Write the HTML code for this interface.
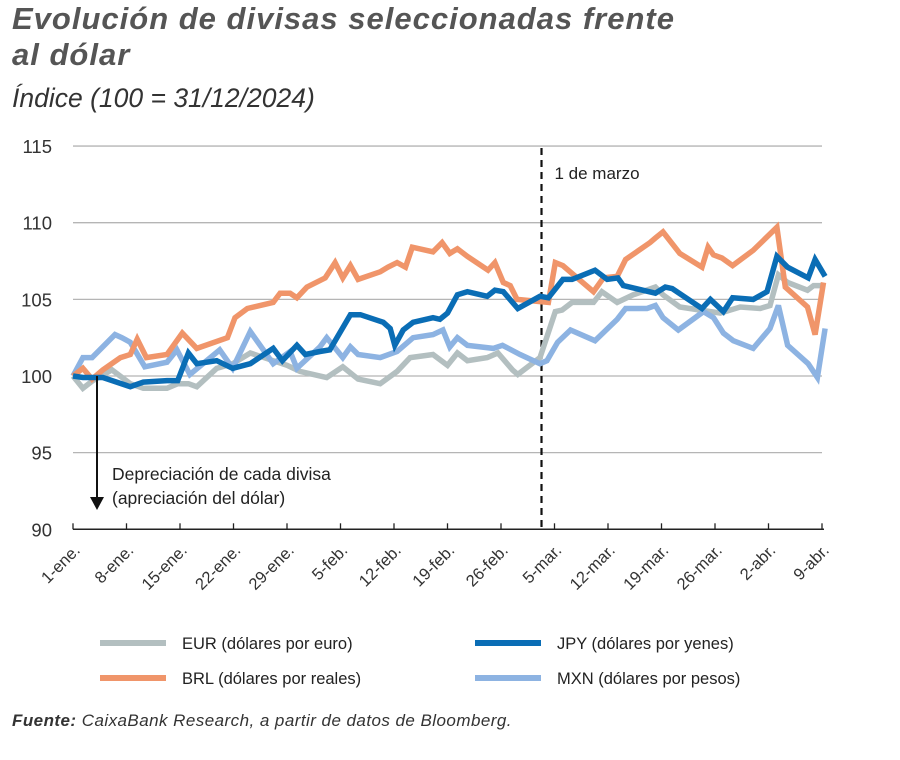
<!DOCTYPE html>
<html><head><meta charset="utf-8">
<style>
body{margin:0;background:#fff;font-family:"Liberation Sans",sans-serif;}
#wrap{position:relative;width:900px;height:760px;overflow:hidden;}
.t{position:absolute;color:#555;font-style:italic;font-weight:bold;font-size:31px;letter-spacing:1px;left:12px;}
</style></head><body>
<div id="wrap">
<div class="t" style="top:1px">Evolución de divisas seleccionadas frente</div>
<div class="t" style="top:37px">al dólar</div>
<div style="position:absolute;left:12px;top:83px;font-style:italic;font-size:26.5px;color:#333">Índice (100 = 31/12/2024)</div>
<svg id="svg" width="900" height="760" style="position:absolute;left:0;top:0"></svg>
<div style="position:absolute;left:12px;top:711px;font-style:italic;font-size:17px;letter-spacing:0.45px;color:#333"><b>Fuente:</b> CaixaBank Research, a partir de datos de Bloomberg.</div>
</div>
<script>
const tickDays=[0,7,14,21,28,35,42,49,56,63,70,77,84,91,98];
const tickLabels=["1-ene.","8-ene.","15-ene.","22-ene.","29-ene.","5-feb.","12-feb.","19-feb.","26-feb.","5-mar.","12-mar.","19-mar.","26-mar.","2-abr.","9-abr."];
const yTicks=[90,95,100,105,110,115];
const eurDays=[0,1.3,2.6,5.1,7.5,9.2,12.3,13.7,15.1,16.2,18.8,20.9,23.2,26.2,28,29.7,33.2,35.3,37.3,40.2,42.4,44.1,47.1,49,50.3,51.6,54.2,55.6,57.5,58.2,61.1,63.1,64,65.3,68.1,69.2,71.2,73.3,76.2,77.2,79.4,82.1,84.7,87.3,89.9,91.2,92.3,93.5,96.1,96.9,98.2];
const eurVals=[100,99.2,99.7,100.4,99.5,99.2,99.2,99.5,99.5,99.3,100.5,100.8,101.5,101,100.7,100.3,99.9,100.6,99.8,99.5,100.3,101.2,101.4,100.7,101.5,101,101.2,101.5,100.4,100.1,101.2,104.2,104.3,104.8,104.8,105.5,104.8,105.3,105.8,105.3,104.5,104.3,104.1,104.5,104.4,104.6,106.6,106.1,105.6,105.9,105.9];
const brlDays=[0,1.3,2.5,3.9,6.2,7.5,8.4,9.6,12.3,14.3,16.2,20.2,21.2,22.8,26.2,27.1,28.4,29.3,30.6,33,34.3,35.3,36.3,37.3,40.2,41.2,42.4,43.5,44.4,47.1,48.3,49.3,50.3,51.6,54.3,55.2,56.3,57.2,58.1,62.2,63.1,64.1,68.1,69.4,71.2,72.3,75.5,76.2,77.2,79.4,82.3,83.1,83.8,84.9,86.3,89,92.1,93.2,96.1,97.1,98.2];
const brlVals=[100,100.5,99.8,100.4,101.2,101.4,102.4,101.2,101.4,102.8,101.8,102.5,103.8,104.4,104.8,105.4,105.4,105.1,105.8,106.4,107.4,106.4,107.2,106.3,106.8,107.1,107.4,107.1,108.4,108.1,108.7,108,108.3,107.8,106.9,107.4,106.1,105.9,105,104.8,107.4,107.2,105.5,106.4,106.5,107.6,108.7,109,109.4,108,107.1,108.4,107.9,107.7,107.2,108.2,109.7,105.8,104.5,102.7,106.1];
const jpyDays=[0,1.3,3.9,7.5,9.2,12.3,13.7,15.1,16.2,18.8,20.9,23.2,26.2,27.4,29.3,30.4,32.3,33.6,36.3,37.6,40.6,41.5,42.1,43.2,44.5,47.1,48,49,50.3,51.6,54.2,55.2,56.3,58.2,61.1,62.2,64.1,65.3,68.3,69.9,71.3,72,76.2,77.5,78.4,82.3,83.4,85.1,86.3,89,90.8,92.1,93.5,96.2,97.1,98.4];
const jpyVals=[100,99.9,99.9,99.3,99.6,99.7,99.7,101.5,100.8,101,100.5,100.8,101.8,101,102,101.4,101.6,101.7,104,104,103.5,103.1,102,103,103.5,103.8,103.7,104.1,105.3,105.5,105.2,105.6,105.5,104.4,105.2,105.1,106.3,106.3,106.9,106.3,106.4,105.9,105.4,105.8,105.7,104.4,105,104.2,105.1,105,105.5,107.8,107.1,106.4,107.6,106.5];
const mxnDays=[0,1.3,2.5,5.5,6.4,7.5,9.4,12.3,13.6,15.3,19.2,20.9,23.2,26.2,28.4,29.3,32.3,33.2,35.3,36.3,37.3,40.2,42.4,44.5,47.1,48.4,49.3,50.3,51.6,55,56.2,58.5,61.1,62,63.4,65.1,68.3,71.2,72.3,75.1,76.2,77.2,79.2,82.5,83.8,85.1,86.4,89,91.2,92.3,93.5,96.2,97.4,98.4];
const mxnVals=[100,101.2,101.2,102.7,102.5,102.2,100.6,100.9,101.7,100.1,101.7,100.5,102.9,100.8,101.6,100.5,101.9,102.5,101.2,101.9,101.4,101.2,101.6,102.5,102.7,103,101.9,102.5,102,101.8,102,101.4,100.8,101,102.2,103,102.3,103.7,104.4,104.4,104.6,103.8,103,104.2,103.8,102.8,102.3,101.8,103.1,104.6,102,100.8,99.9,103.1];
const marchDay=61.3;

const NS="http://www.w3.org/2000/svg";
const svg=document.getElementById('svg');
const X0=73,X1=822,D1=98;
const xs=d=>X0+(X1-X0)*d/D1;
const ys=v=>376-(v-100)*15.33;
function mk(tag,attrs,parent){const e=document.createElementNS(NS,tag);for(const k in attrs)e.setAttribute(k,attrs[k]);(parent||svg).appendChild(e);return e;}
yTicks.forEach(v=>{
  if(v>90){const g=mk('line',{x1:X0,x2:X1,y1:ys(v),y2:ys(v),stroke:'#b5b5b5','stroke-width':1.3});
  
  }
  const t=mk('text',{x:52,y:ys(v)+7,'text-anchor':'end','font-size':18.5,fill:'#333','font-family':'Liberation Sans, sans-serif'});
  t.textContent=v;
  
  
});
const ax=mk('line',{x1:X0,x2:X1+2,y1:ys(90),y2:ys(90),stroke:'#222','stroke-width':1.5});


tickDays.forEach((d,i)=>{
  const tk=mk('line',{x1:xs(d),x2:xs(d),y1:ys(90),y2:ys(90)-6,stroke:'#222','stroke-width':1.3});
  
  
  const x=xs(d)+8,y=ys(90)+22;
  const t=mk('text',{x:x,y:y,'text-anchor':'end','font-size':16.5,fill:'#333',transform:`rotate(-45 ${x} ${y})`,'font-family':'Liberation Sans, sans-serif'});
  t.textContent=tickLabels[i];
  
  
});
const vl=mk('line',{x1:xs(marchDay),x2:xs(marchDay),y1:148,y2:ys(90),stroke:'#111','stroke-width':2.2,'stroke-dasharray':'7,5'});


const ml=mk('text',{x:xs(marchDay)+13,y:179,'font-size':17,fill:'#222','font-family':'Liberation Sans, sans-serif'});
ml.textContent='1 de marzo';


const series=[['eur',eurDays,eurVals,'#b3bfc0'],['mxn',mxnDays,mxnVals,'#8db3e2'],['brl',brlDays,brlVals,'#f0956a'],['jpy',jpyDays,jpyVals,'#0a6db5']];
series.forEach(s=>{
  const pts=s[1].map((d,i)=>xs(d).toFixed(1)+','+ys(s[2][i]).toFixed(1)).join(' ');
  const p=mk('polyline',{points:pts,fill:'none',stroke:s[3],'stroke-width':5.5,'stroke-linejoin':'miter','stroke-miterlimit':3});
  
  
});
const ar=mk('line',{x1:97,x2:97,y1:376,y2:498,stroke:'#111','stroke-width':2});


const ah=mk('polygon',{points:'90,497 104,497 97,510',fill:'#111'});


[['Depreciación de cada divisa',480],['(apreciación del dólar)',504]].forEach(a=>{
  const t=mk('text',{x:112,y:a[1],'font-size':17.5,fill:'#222','font-family':'Liberation Sans, sans-serif'});
  t.textContent=a[0];
  
  
});
const legend=[['EUR (dólares por euro)','#b3bfc0',100,643],['JPY  (dólares por yenes)','#0a6db5',475,643],['BRL  (dólares por reales)','#f0956a',100,678],['MXN  (dólares por pesos)','#8db3e2',475,678]];
legend.forEach(l=>{
  const ln=mk('line',{x1:l[2],x2:l[2]+66,y1:l[3],y2:l[3],stroke:l[1],'stroke-width':6});
  
  
  const t=mk('text',{x:l[2]+82,y:l[3]+6,'font-size':16.5,fill:'#222','font-family':'Liberation Sans, sans-serif'});
  t.textContent=l[0];
  
  
});
</script>
</body></html>
